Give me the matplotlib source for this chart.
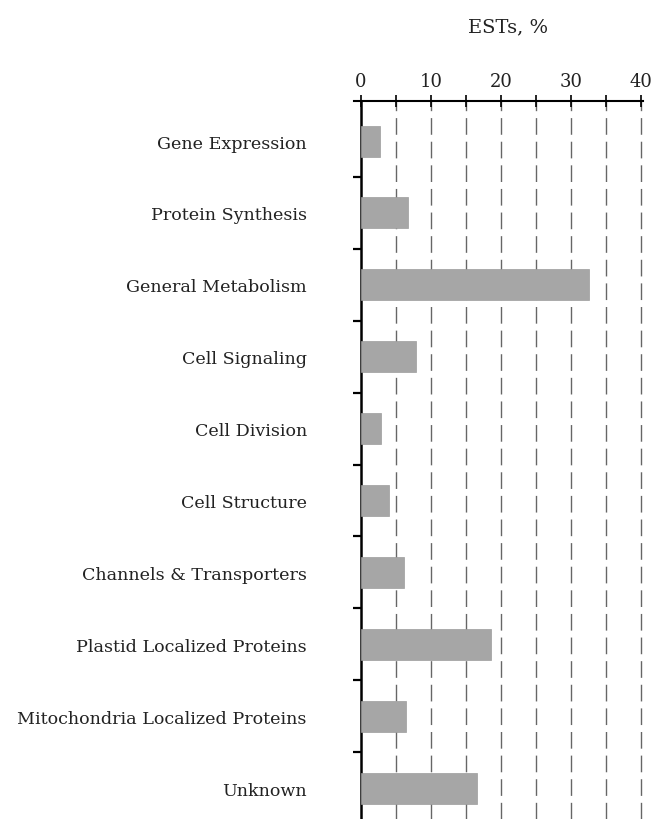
import matplotlib
matplotlib.use("Agg")
import matplotlib.pyplot as plt
import numpy as np

categories = ["Gene Expression", "Protein Synthesis", "General Metabolism",
              "Cell Signaling", "Cell Division", "Cell Structure",
              "Channels & Transporters", "Plastid Localized Proteins",
              "Mitochondria Localized Proteins", "Unknown"]
values = [2.7, 6.7, 32.5, 7.9, 2.9, 4.0, 6.1, 18.5, 6.4, 16.5]
x_ticks = [0, 10, 20, 30, 40]
x_label = "ESTs, %"

plt.rcParams['font.family'] = ['DejaVu Serif']

fig = plt.figure(figsize=(6.66, 8.20), dpi=100)
ax = fig.add_axes([361/666, 0.0, 280/666, 1 - 102/820])

y = np.arange(len(categories))
ax.barh(y, values, height=0.43, color='#a6a6a6', edgecolor='#9c9c9c',
        linewidth=0.5, zorder=3)

ax.set_xlim(0, 40)
ax.set_ylim(9.43, -0.557)

# dashed grid
for gx in np.arange(5, 41, 5):
    ax.axvline(gx, color='#666666', linewidth=1.0, linestyle=(0, (12, 5)),
               zorder=1, clip_on=False)

ax.xaxis.tick_top()
ax.xaxis.set_label_position('top')
ax.set_xticks(x_ticks)
ax.set_xticklabels([str(t) for t in x_ticks], fontsize=13, color='#222222')
ax.set_xticks(np.arange(5, 40, 10), minor=True)
ax.tick_params(axis='x', which='both', direction='inout', length=8, width=1.2,
               pad=4, top=True, bottom=False)
ax.set_xlabel(x_label, fontsize=14, color='#222222')
ax.xaxis.set_label_coords(0.525, 1 + 70/718)

ax.set_yticks(y)
ax.set_yticklabels(categories, fontsize=12.6, color='#222222')
ax.tick_params(axis='y', which='major', length=0, pad=39)
ax.set_yticks(np.arange(0.5, 9, 1), minor=True)
ax.tick_params(axis='y', which='minor', direction='out', length=6, width=1.6)

for s in ['right', 'bottom']:
    ax.spines[s].set_visible(False)
ax.spines['top'].set_linewidth(1.5)
ax.spines['left'].set_linewidth(1.8)
ax.spines['top'].set_bounds(-1.0, 40.3)

fig.savefig("out.png", dpi=100)
